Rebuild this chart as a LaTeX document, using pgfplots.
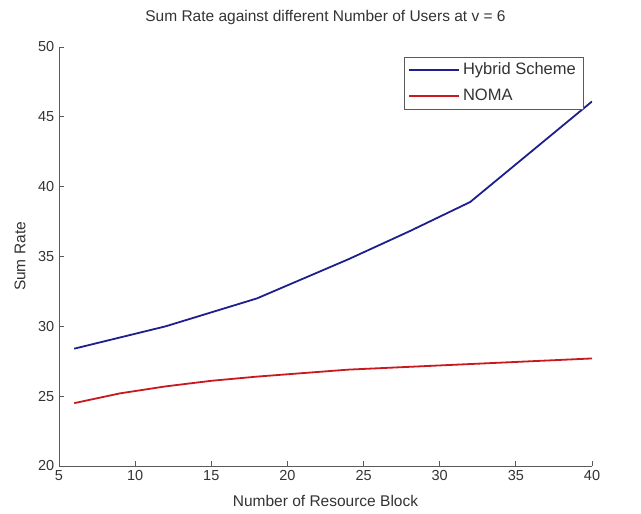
\documentclass[border=0pt]{standalone}
\usepackage{fontspec}
\setmainfont{Liberation Sans}
\usepackage{pgfplots}
\pgfplotsset{compat=1.18}
\definecolor{hyb}{RGB}{30,30,140}
\definecolor{nom}{RGB}{200,25,30}
\definecolor{axgray}{RGB}{90,90,90}
\begin{document}
\fontsize{14bp}{16bp}\selectfont
\begin{tikzpicture}
\path[use as bounding box] (-59bp,-48bp) rectangle (582bp,466bp);
\begin{axis}[
  scale only axis,
  width=533bp, height=419bp,
  xmin=5, xmax=40, ymin=20, ymax=50,
  xtick={5,10,...,40}, ytick={20,25,...,50},
  axis x line=bottom, axis y line=left,
  axis line style={-, axgray, line width=0.8bp},
  tick align=inside,
  major tick length=5bp,
  tick style={axgray, line width=0.8bp},
  /pgf/number format/assume math mode=true,
  tick label style={text=black!80, font=\fontsize{14.5bp}{16bp}\selectfont},
  title={Sum Rate against different Number of Users at v = 6},
  title style={at={(axis description cs:0.5,1.0477)}, anchor=base, text=black!80, font=\fontsize{15.5bp}{18bp}\selectfont},
  xlabel={Number of Resource Block},
  xlabel style={at={(axis description cs:0.5,-0.0955)}, anchor=base, text=black!80, font=\fontsize{15.5bp}{18bp}\selectfont},
  ylabel={Sum Rate},
  ylabel style={at={(axis description cs:-0.0732,0.5)}, anchor=center, text=black!80, font=\fontsize{15.5bp}{18bp}\selectfont},
  legend style={at={(1,1)}, anchor=north east, xshift=-9bp, yshift=-10bp,
    draw=axgray, fill=white, cells={anchor=west}, text=black!80,
    font=\fontsize{16.5bp}{18bp}\selectfont, inner xsep=4bp, inner ysep=0.5bp,
    nodes={text height=11.5bp, text depth=3bp, inner ysep=5.5bp, inner xsep=3bp}},
  legend image code/.code={\draw[#1, line width=2bp] (0bp,0.4bp) -- (50bp,0.4bp);},
]
\addplot[hyb, line width=1.8bp] coordinates {
 (6,28.4) (9,29.2) (12,30.0) (15,31.0) (18,32.0) (21,33.4) (24,34.8) (28,36.8) (32,38.9) (40,46.1)};
\addlegendentry{Hybrid Scheme}
\addplot[nom, line width=1.8bp] coordinates {
 (6,24.5) (9,25.2) (12,25.7) (15,26.1) (18,26.4) (24,26.9) (30,27.2) (36,27.5) (40,27.7)};
\addlegendentry{NOMA}
\end{axis}
\end{tikzpicture}
\end{document}
